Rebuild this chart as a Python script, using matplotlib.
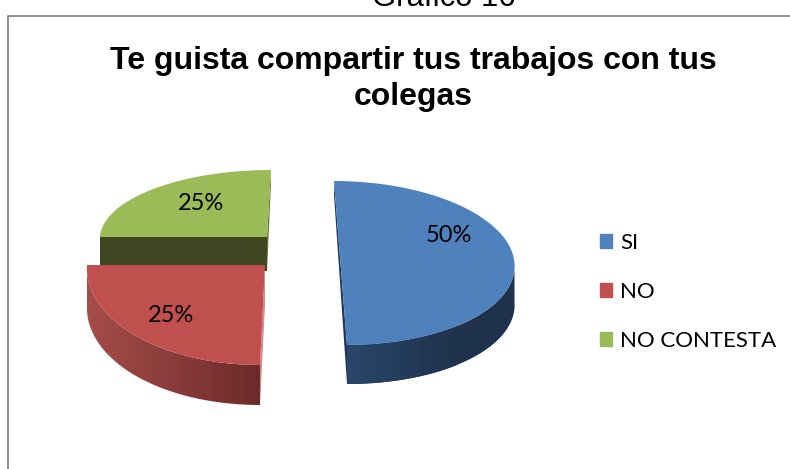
import numpy as np
import matplotlib
matplotlib.use('Agg')
import matplotlib.pyplot as plt
from matplotlib.colors import LinearSegmentedColormap
from matplotlib.patches import Patch, Polygon

categories = ['SI', 'NO', 'NO CONTESTA']
values = [50, 25, 25]
labels = ['50%', '25%', '25%']

top_colors = ['#4F81BD', '#C0504D', '#9BBB59']
wall_left = ['#2A466B', '#A54D49', '#7A9442']
wall_right = ['#1E324C', '#6D2A2A', '#5F7A30']
inner_colors = ['#1F3A5F', '#D08A88', '#3F4722']

# apex x/y, radius x/y, skew, depth of each exploded slice (pixels)
slices = [
    (340.5, 263, 174, 82, -6.5, 39),
    (265, 265, 178, 100, 5, 40),
    (267, 237, 167, 67, 4, 34),
]
label_pos = [(449, 235), (171, 316), (201, 203)]


def arc(s, a0, a1, dy=0, n=80):
    cx, cy, rx, ry, sk, _ = s
    t = np.radians(np.linspace(a0, a1, n))
    return np.column_stack([cx + rx * np.sin(t) + sk * np.cos(t),
                            cy - ry * np.cos(t) + dy])


fig = plt.figure(figsize=(7.9, 4.69), dpi=100)
ax = fig.add_axes([0, 0, 1, 1])
ax.set_xlim(0, 790)
ax.set_ylim(469, 0)
ax.axis('off')

# marco del grafico
ax.plot([8, 8, 790], [469, 16.5, 16.5], color='#868686', lw=1.3)

ax.text(444, 6, 'Grafico 16', family='Liberation Sans', fontsize=22.3,
        ha='center', va='baseline')
ax.text(413, 69, 'Te guista compartir tus trabajos con tus',
        family='Liberation Sans', weight='bold', fontsize=23,
        ha='center', va='baseline')
ax.text(413, 105, 'colegas', family='Liberation Sans', weight='bold',
        fontsize=23, ha='center', va='baseline')

angles = np.cumsum([0] + values) * 360.0 / sum(values)
# el verde va atras, luego rojo y azul
for i in [2, 1, 0]:
    a0, a1 = angles[i], angles[i + 1]
    s = slices[i]
    cx, cy, rx, ry, sk, depth = s
    top = arc(s, a0, a1)
    apex = np.array([[cx, cy]])

    # cara interior (borde recto)
    if i == 0:
        inner = [top[0], top[-1], top[-1] + [0, depth], top[0] + [0, 14]]
        ax.add_patch(Polygon(inner, color=inner_colors[i], lw=0))
    elif i == 1:
        inner = [apex[0], top[0], top[0] + [0, depth], apex[0] + [0, depth]]
        ax.add_patch(Polygon(inner, color=inner_colors[i], lw=0))
    else:
        inner = [top[0], apex[0], apex[0] + [0, depth], top[0] + [0, depth]]
        ax.add_patch(Polygon(inner, color=inner_colors[i], lw=0))
        edge = [top[-1], apex[0], apex[0] + [0, depth], top[-1] + [0, 14]]
        ax.add_patch(Polygon(edge, color=wall_right[i], lw=0))

    # pared frontal con degradado
    front = arc(s, max(a0, 90), min(a1, 270))
    if a0 < 270 and a1 > 90:
        wall = np.vstack([front, (front + [0, depth])[::-1]])
        poly = Polygon(wall, color='none', lw=0)
        ax.add_patch(poly)
        cmap = LinearSegmentedColormap.from_list('w', [wall_left[i], wall_right[i]])
        if i == 0:
            x0, x1 = front[:, 0].min(), front[:, 0].min() + 110
        else:
            x0, x1 = front[:, 0].min(), front[:, 0].max()
        im = ax.imshow(np.linspace(0, 1, 256).reshape(1, -1), cmap=cmap, aspect='auto',
                       extent=[x0, front[:, 0].max() if i else x1,
                               wall[:, 1].max(), wall[:, 1].min()],
                       zorder=1.5, interpolation='bilinear')
        im.set_clip_path(poly)
        if i == 0:
            ax.add_patch(Polygon(wall, color=wall_right[i], lw=0, zorder=1.4))

    ax.add_patch(Polygon(np.vstack([apex, top]), color=top_colors[i], lw=0, zorder=2 + (2 - i)))

ax.set_xlim(0, 790)
ax.set_ylim(469, 0)

for (x, y), lab in zip(label_pos, labels):
    ax.text(x, y, lab, family='Lato', fontsize=17, ha='center', va='center', zorder=6)

handles = [Patch(color=c, label=n) for c, n in zip(top_colors, categories)]
ax.legend(handles=handles, loc='upper left', bbox_to_anchor=(600, 233),
          bbox_transform=ax.transData, frameon=False, prop={'family': 'Lato', 'size': 16},
          handlelength=0.55, handleheight=0.55, handletextpad=0.36, labelspacing=1.3,
          borderpad=0, borderaxespad=0)

fig.savefig('out.png', dpi=100)
